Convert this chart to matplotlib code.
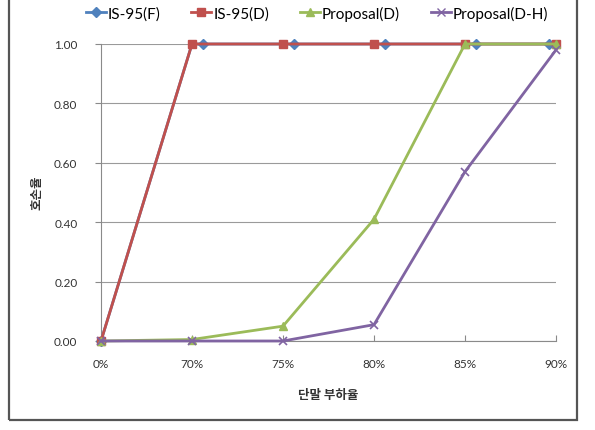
import matplotlib
matplotlib.use("Agg")
import matplotlib.pyplot as plt
from matplotlib.patches import Rectangle
from matplotlib.lines import Line2D

categories = ["0%", "70%", "75%", "80%", "85%", "90%"]
is95_f = [0.0, 1.0, 1.0, 1.0, 1.0, 1.0]
is95_d = [0.0, 1.0, 1.0, 1.0, 1.0, 1.0]
prop_d = [0.0, 0.005, 0.05, 0.41, 1.0, 1.0]
prop_dh = [0.0, 0.0, 0.0, 0.055, 0.57, 0.98]
y_ticks = [0.0, 0.2, 0.4, 0.6, 0.8, 1.0]
series_names = ["IS-95(F)", "IS-95(D)", "Proposal(D)", "Proposal(D-H)"]
x_label = "단말 부하율"
y_label = "호손율"

# visual offset of the IS-95(F) markers in the original rendering
f_shift = [0.0, 0.12, 0.12, 0.12, 0.12, -0.08]

LAT = ["Lato", "DejaVu Sans"]
KR = ["Noto Sans CJK KR", "DejaVu Sans"]

c_blue = "#4F81BD"
c_red = "#C0504D"
c_green = "#9BBB59"
c_purple = "#8064A2"

fig = plt.figure(figsize=(5.95, 4.31), dpi=100)
W, H = 595, 431

# outer frame
fig.patches.append(Rectangle((9 / W, 1 - 421 / H), (577 - 9) / W, (421 - 0) / H + 0.01,
                             transform=fig.transFigure, fill=False,
                             edgecolor="#555555", linewidth=1.6))

ax = fig.add_axes([101 / W, 1 - 342 / H, (556 - 101) / W, (342 - 45) / H])
x = list(range(len(categories)))

ax.set_xlim(0, len(categories) - 1)
ax.set_ylim(0, 1.0)
ax.set_yticks(y_ticks)
ax.set_yticklabels([f"{v:.2f}" for v in y_ticks], family=LAT, fontsize=8.5, color="#333333")
ax.set_xticks(x)
ax.set_xticklabels(categories, family=LAT, fontsize=8.5, color="#333333")
ax.grid(axis="y", color="#9A9A9A", linewidth=0.8)
ax.set_axisbelow(True)
for s in ["top", "right"]:
    ax.spines[s].set_visible(False)
ax.spines["left"].set_color("#8A8A8A")
ax.spines["bottom"].set_color("#8A8A8A")
ax.tick_params(axis="y", length=4, color="#8A8A8A", pad=13)
ax.tick_params(axis="x", direction="in", length=4, color="#8A8A8A", pad=12)

xf = [xi + d for xi, d in zip(x, f_shift)]
ax.plot(x, is95_f, color=c_blue, linewidth=2, clip_on=False, zorder=3)
ax.plot(xf, is95_f, color=c_blue, marker="D", markersize=5, linestyle="none",
        clip_on=False, zorder=3)
ax.plot(x, is95_d, color=c_red, marker="s", markersize=6, linewidth=2, clip_on=False, zorder=4)
ax.plot(x, prop_d, color=c_green, marker="^", markersize=6, linewidth=2, clip_on=False, zorder=5)
ax.plot(x, prop_dh, color=c_purple, marker="x", markersize=6, markeredgewidth=1.2,
        linewidth=2, clip_on=False, zorder=6)

ax.set_xlabel(x_label, family=KR, fontsize=9, fontweight="bold", color="#333333", labelpad=14)
fig.text(37 / W, 1 - 193 / H, y_label, family=KR, fontsize=9, fontweight="bold",
         color="#333333", rotation=90, ha="center", va="center")

handles = [
    Line2D([], [], color=c_blue, marker="D", markersize=5, linewidth=2),
    Line2D([], [], color=c_red, marker="s", markersize=6, linewidth=2),
    Line2D([], [], color=c_green, marker="^", markersize=6, linewidth=2),
    Line2D([], [], color=c_purple, marker="x", markersize=6, linewidth=2),
]
fig.legend(handles, series_names, loc="center", bbox_to_anchor=(317 / W, 1 - 14 / H),
           ncol=4, frameon=False, prop={"family": LAT, "size": 11},
           handlelength=1.3, handletextpad=0.15, columnspacing=2.0)

fig.savefig("out.png", dpi=100)
